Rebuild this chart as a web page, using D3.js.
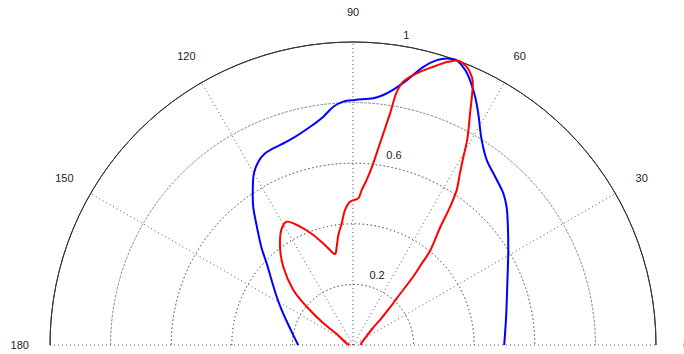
<!DOCTYPE html>
<html>
<head>
<meta charset="utf-8">
<script src="https://cdn.jsdelivr.net/npm/d3@7"></script>
<style>
  html, body { margin: 0; padding: 0; background: #fff; overflow: hidden; }
  svg { display: block; }
  text { font-family: "Liberation Sans", Arial, Helvetica, sans-serif; font-size: 11px; fill: #222; }
</style>
</head>
<body>
<svg id="chart" width="684" height="354"></svg>
<script>
// ---- data (angle in degrees, radius 0..1) ----
const angleTicks = [0, 30, 60, 90, 120, 150, 180];
const ringValues = [0.2, 0.4, 0.6, 0.8, 1];
const ringLabels = [0.2, 0.6, 1];

const blueAngle = [0, 10.5, 21.9, 31.5, 38.2, 42.0, 45.3, 49.8, 54.1, 57.9, 61.6, 63.8, 66.2, 67.8, 70.0, 71.9, 73.6, 75.8, 78.5, 81.1, 83.1, 85.3, 89.5, 92.3, 94.7, 97.4, 101.1, 107.1, 112.1, 114.7, 117.3, 120.0, 122.9, 125.8, 129.1, 133.3, 136.6, 141.4, 147.7, 153.9, 162.8, 170.5, 180];
const blueR     = [0.499, 0.514, 0.549, 0.601, 0.650, 0.682, 0.705, 0.727, 0.753, 0.799, 0.869, 0.913, 0.956, 0.980, 1.000, 0.995, 0.980, 0.947, 0.892, 0.852, 0.831, 0.817, 0.809, 0.804, 0.789, 0.760, 0.734, 0.708, 0.700, 0.696, 0.681, 0.654, 0.609, 0.563, 0.503, 0.440, 0.392, 0.344, 0.298, 0.262, 0.223, 0.200, 0.181];

const redAngle = [0, 15, 29.2, 40.1, 42.8, 45.4, 46.9, 48.6, 49.8, 50.7, 53.4, 54.9, 56.2, 58.1, 59.6, 60.9, 63.2, 65.4, 66.1, 67.8, 69.7, 71.4, 73.9, 76.8, 79.2, 80.2, 80.9, 82.2, 83.9, 85.3, 86.8, 87.9, 91.2, 93.4, 95.3, 97.6, 99.4, 101.2, 105.0, 109.8, 114.1, 118.3, 121.4, 126.6, 131.7, 137.3, 140.4, 143.8, 146.0, 164.9, 180];
const redR     = [0.025, 0.030, 0.045, 0.082, 0.121, 0.174, 0.212, 0.299, 0.350, 0.401, 0.481, 0.557, 0.615, 0.668, 0.720, 0.775, 0.857, 0.950, 0.968, 0.992, 1.000, 0.986, 0.956, 0.921, 0.885, 0.847, 0.774, 0.683, 0.592, 0.546, 0.512, 0.485, 0.473, 0.446, 0.403, 0.366, 0.329, 0.306, 0.336, 0.386, 0.428, 0.462, 0.451, 0.404, 0.346, 0.268, 0.198, 0.121, 0.066, 0.022, 0.012];

// ---- layout ----
const cx = 353, cy = 345, R = 303;
const svg = d3.select("#chart");
const g = svg.append("g").attr("transform", `translate(${cx},${cy})`);

const r = d3.scaleLinear().domain([0, 1]).range([0, R]);
const toRad = d3.scaleLinear().domain([0, 360]).range([0, 2 * Math.PI]);
// d3 radial angle: clockwise from 12 o'clock
const radial = deg => Math.PI / 2 - toRad(deg);
const px = (deg, v) => r(v) * Math.cos(toRad(deg));
const py = (deg, v) => -r(v) * Math.sin(toRad(deg));

const gridStyle = sel => sel.attr("fill", "none").attr("stroke", "#555")
  .attr("stroke-width", 1).attr("stroke-dasharray", "1 3");

// dotted rings (upper half)
const arc = d3.arc().startAngle(-Math.PI / 2).endAngle(Math.PI / 2);
g.selectAll("path.ring").data(ringValues.filter(v => v < 1)).join("path")
  .attr("class", "ring")
  .attr("d", v => arc({innerRadius: r(v), outerRadius: r(v)}))
  .call(gridStyle);

// spokes
g.selectAll("line.spoke").data(angleTicks.filter(a => a > 0 && a < 180)).join("line")
  .attr("class", "spoke")
  .attr("x1", 0).attr("y1", 0)
  .attr("x2", a => px(a, 1)).attr("y2", a => py(a, 1))
  .call(gridStyle);
// baseline 0-180
g.append("line")
  .attr("x1", px(180, 1)).attr("y1", 0).attr("x2", px(0, 1)).attr("y2", 0)
  .call(gridStyle);

// outer circle (solid)
g.append("path")
  .attr("d", arc({innerRadius: r(1), outerRadius: r(1)}))
  .attr("fill", "none").attr("stroke", "#333").attr("stroke-width", 1);

// angle labels
g.selectAll("text.ang").data(angleTicks).join("text")
  .attr("class", "ang")
  .attr("x", a => px(a, 1.1)).attr("y", a => py(a, 1.1))
  .attr("text-anchor", "middle").attr("dominant-baseline", "central")
  .text(a => a);

// ring labels
const labAng = 82;
g.selectAll("text.rl").data(ringLabels).join("text")
  .attr("class", "rl")
  .attr("x", v => px(labAng, v) + 8).attr("y", v => py(labAng, v) - 6)
  .attr("text-anchor", "start")
  .text(v => v);

// curves
const line = d3.lineRadial()
  .angle(d => radial(d[0]))
  .radius(d => r(d[1]))
  .curve(d3.curveCatmullRom.alpha(0.5));

const blue = blueAngle.map((a, i) => [a, blueR[i]]);
const red = redAngle.map((a, i) => [a, redR[i]]);

g.append("path").attr("d", line(blue))
  .attr("fill", "none").attr("stroke", "#0000ff").attr("stroke-width", 2).attr("stroke-linejoin", "round");
g.append("path").attr("d", line(red))
  .attr("fill", "none").attr("stroke", "#ff0000").attr("stroke-width", 2).attr("stroke-linejoin", "round");
</script>
</body>
</html>
